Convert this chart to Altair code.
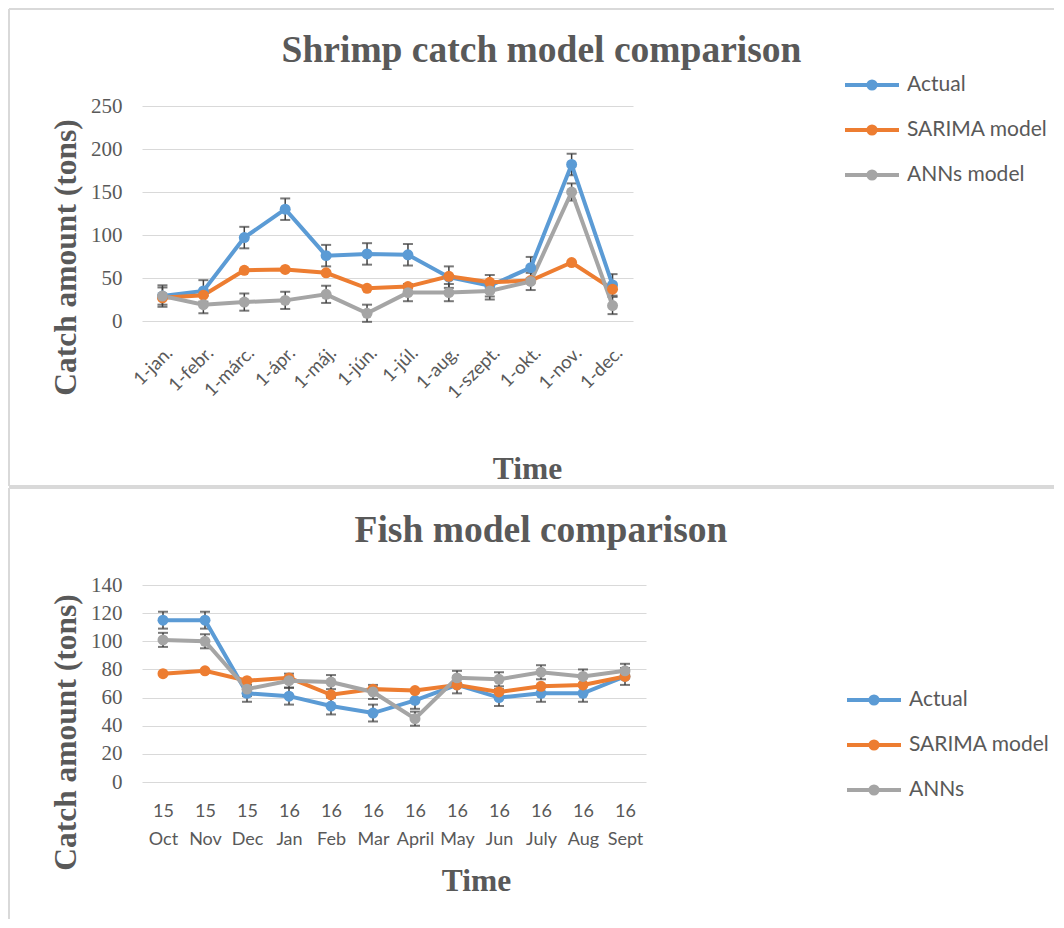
import altair as alt
import pandas as pd

# ---------------- data ----------------
shrimp_months = ["1-jan.", "1-febr.", "1-márc.", "1-ápr.", "1-máj.", "1-jún.",
                 "1-júl.", "1-aug.", "1-szept.", "1-okt.", "1-nov.", "1-dec."]
shrimp_actual = [29, 35, 97, 130, 76, 78, 77, 51, 41, 62, 182, 42]
shrimp_sarima = [27, 30, 59, 60, 56, 38, 40, 52, 45, 47, 68, 37]
shrimp_anns = [29, 19, 22, 24, 31, 9, 33, 33, 35, 46, 150, 18]
shrimp_actual_err = [12.5] * 12
shrimp_anns_err = [10] * 12

fish_months = ["15 Oct", "15 Nov", "15 Dec", "16 Jan", "16 Feb", "16 Mar",
               "16 April", "16 May", "16 Jun", "16 July", "16 Aug", "16 Sept"]
fish_actual = [115, 115, 63, 61, 54, 49, 58, 69, 60, 63, 63, 75]
fish_sarima = [77, 79, 72, 74, 62, 66, 65, 69, 64, 68, 69, 75]
fish_anns = [101, 100, 66, 72, 71, 64, 45, 74, 73, 78, 75, 79]
fish_actual_err = [6] * 12
fish_anns_err = [5] * 12

series_top = ["Actual", "SARIMA model", "ANNs model"]
series_bottom = ["Actual", "SARIMA model", "ANNs"]
colors = ["#5B9BD5", "#ED7D31", "#A5A5A5"]

TXT = "#595959"
GRID = "#d9d9d9"
SERIF = "Liberation Serif"
SANS = "Lato"
SYMBOL = "M-2.25,0H2.25M-0.3,0A0.3,0.3 0 1,0 0.3,0A0.3,0.3 0 1,0 -0.3,0Z"


def build_frames(cats, names, values, errs):
    rows, erows = [], []
    for name, vals, err in zip(names, values, errs):
        for c, v, e in zip(cats, vals, err if err else [None] * len(vals)):
            rows.append({"cat": c, "series": name, "value": v})
            if e is not None:
                erows.append({"cat": c, "series": name, "lo": v - e, "hi": v + e})
    return pd.DataFrame(rows), pd.DataFrame(erows)


def panel(title, title_dx, title_offset, cats, names, values, errs, ymax, ystep,
          w, h, xaxis, ytitle_y, leg_x, leg_y, frame_bottom, closed):
    df, edf = build_frames(cats, names, values, errs)
    xs = alt.Scale(type="point", padding=0.5)
    yaxis = alt.Axis(values=list(range(0, ymax + 1, ystep)), title="Catch amount (tons)",
                     titleFont=SERIF, titleFontSize=31.5, titleFontWeight="bold", titleColor=TXT,
                     titleY=ytitle_y, titlePadding=8,
                     labelFont=SERIF, labelFontSize=21, labelColor=TXT, labelPadding=20,
                     grid=True, gridColor=GRID, gridWidth=1.2, domain=False, ticks=False)
    ys = alt.Scale(domain=[0, ymax], nice=False)
    legend = alt.Legend(orient="none", legendX=leg_x, legendY=leg_y, title=None,
                        symbolType=SYMBOL, symbolSize=576, symbolStrokeWidth=4,
                        symbolOpacity=1, labelFont=SANS, labelFontSize=21, labelColor=TXT,
                        labelOffset=21, rowPadding=19, padding=0)
    color = alt.Color("series:N", sort=names, scale=alt.Scale(domain=names, range=colors),
                      legend=legend)

    X = alt.X("cat:N", sort=cats, scale=xs, axis=xaxis)

    err_rule = alt.Chart(edf).mark_rule(color="#404040", strokeWidth=1.5).encode(
        x=X, y=alt.Y("lo:Q", scale=ys, axis=yaxis), y2="hi:Q")
    err_lo = alt.Chart(edf).mark_tick(color="#404040", size=10, thickness=2).encode(
        x=X, y=alt.Y("lo:Q", scale=ys, axis=yaxis))
    err_hi = alt.Chart(edf).mark_tick(color="#404040", size=10, thickness=2).encode(
        x=X, y=alt.Y("hi:Q", scale=ys, axis=yaxis))
    lines = alt.Chart(df).mark_line(strokeWidth=4).encode(
        x=X, y=alt.Y("value:Q", scale=ys, axis=yaxis), color=color)
    points = alt.Chart(df).mark_point(filled=True, size=120, opacity=1).encode(
        x=X, y=alt.Y("value:Q", scale=ys, axis=yaxis), color=color)

    one = alt.Data(values=[{}])
    fr = dict(color=GRID, strokeWidth=2)
    layers = [
        alt.Chart(one).mark_rule(**fr).encode(
            x=alt.value(-133), x2=alt.value(912), y=alt.value(-97)),
        alt.Chart(one).mark_rule(**fr).encode(
            x=alt.value(-133), y=alt.value(-97), y2=alt.value(frame_bottom)),
    ]
    if closed:
        layers.append(alt.Chart(one).mark_rule(**fr).encode(
            x=alt.value(-133), x2=alt.value(912), y=alt.value(frame_bottom)))

    return alt.layer(*layers, err_rule, err_lo, err_hi, lines, points).properties(
        width=w, height=h,
        title=alt.TitleParams(title, font=SERIF, fontSize=37.5, fontWeight="bold", color=TXT,
                              anchor="middle", frame="group", dx=title_dx, offset=title_offset),
    )


top_xaxis = alt.Axis(labelAngle=-45, labelFont=SANS, labelFontSize=18.5, labelColor=TXT,
                     labelPadding=22, ticks=False, domain=False, grid=False,
                     title="Time", titleFont=SERIF, titleFontSize=31.5, titleFontWeight="bold",
                     titleColor=TXT, titlePadding=52, titleX=385)
bottom_xaxis = alt.Axis(labelAngle=0, labelFont=SANS, labelFontSize=18, labelColor=TXT,
                        labelExpr="split(datum.label, ' ')", labelLineHeight=28,
                        labelPadding=20, ticks=False, domain=False, grid=False,
                        title="Time", titleFont=SERIF, titleFontSize=31.5, titleFontWeight="bold",
                        titleColor=TXT, titlePadding=17, titleX=334)

top = panel("Shrimp catch model comparison", 154, -61, shrimp_months, series_top,
            [shrimp_actual, shrimp_sarima, shrimp_anns],
            [shrimp_actual_err, None, shrimp_anns_err],
            250, 50, 491, 215, top_xaxis, 151, 716, -35, 380, True)

bottom = panel("Fish model comparison", 147, -62, fish_months, series_bottom,
               [fish_actual, fish_sarima, fish_anns],
               [fish_actual_err, None, fish_anns_err],
               140, 20, 504, 197, bottom_xaxis, 147, 718, 101, 334, False)

chart = alt.vconcat(top, bottom, spacing=0).resolve_scale(
    color="independent", x="independent", y="independent"
).resolve_legend(color="independent").properties(padding=0).configure_view(stroke=None)

chart.save("out.html", embed_options={"renderer": "svg", "actions": False})
